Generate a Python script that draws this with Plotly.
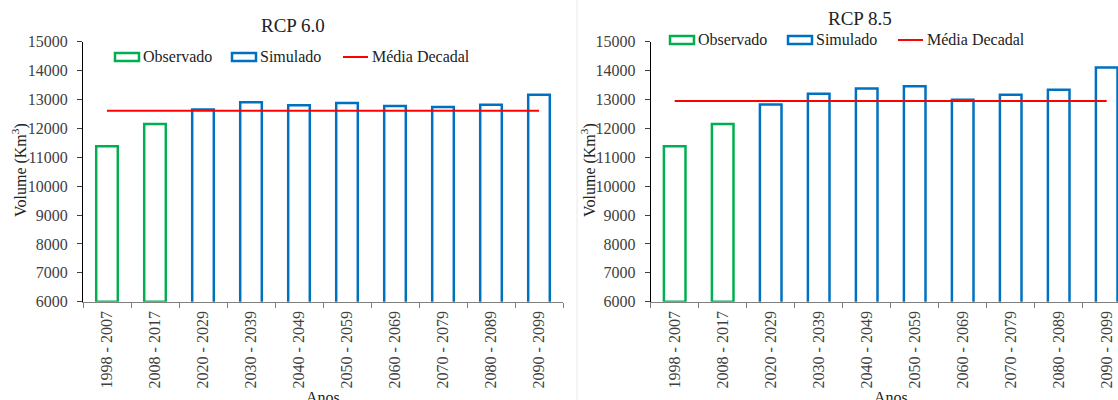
import plotly.graph_objects as go

# dados
periodos = ["1998 - 2007", "2008 - 2017", "2020 - 2029", "2030 - 2039", "2040 - 2049",
            "2050 - 2059", "2060 - 2069", "2070 - 2079", "2080 - 2089", "2090 - 2099"]
periodos_obs = periodos[:2]
periodos_sim = periodos[2:]

observado = [11380, 12150]
simulado_60 = [12650, 12900, 12800, 12880, 12770, 12740, 12820, 13160]
simulado_85 = [12830, 13200, 13380, 13460, 12990, 13160, 13340, 14110]
media_60 = 12610
media_85 = 12950

W, H = 1118, 400
FONT = "Liberation Serif, Times New Roman, serif"
VERDE = "#00b050"
AZUL = "#0070c0"
VERMELHO = "#ff0000"


def px_x(x):
    return x / W


def px_y(y):
    return 1 - y / H


fig = go.Figure()

paineis = [
    ("x", "y", simulado_60, media_60),
    ("x2", "y2", simulado_85, media_85),
]
for xa, ya, sim, media in paineis:
    fig.add_trace(go.Bar(x=periodos_obs, y=[v - 6000 for v in observado], base=6000,
                         width=0.45, marker=dict(color="white", line=dict(color=VERDE, width=2.5)),
                         xaxis=xa, yaxis=ya, showlegend=False))
    fig.add_trace(go.Bar(x=periodos_sim, y=sim, width=0.45,
                         marker=dict(color="white", line=dict(color=AZUL, width=2.5)),
                         xaxis=xa, yaxis=ya, showlegend=False))
    fig.add_trace(go.Scatter(x=periodos, y=[media] * len(periodos), mode="lines",
                             line=dict(color=VERMELHO, width=2),
                             xaxis=xa, yaxis=ya, showlegend=False))

eixo_x = dict(type="category", categoryorder="array", categoryarray=periodos,
              showline=True, linecolor="#7f7f7f", linewidth=1,
              ticks="outside", tickson="boundaries", ticklen=5, tickcolor="#7f7f7f",
              tickangle=-90, tickfont=dict(family=FONT, size=16, color="#404040"),
              ticklabelstandoff=2,
              showgrid=False, zeroline=False, automargin=False)
eixo_y = dict(range=[6000, 15000], dtick=1000, tickformat="d",
              showline=True, linecolor="black", linewidth=1,
              ticks="outside", ticklen=5, tickcolor="#404040",
              tickfont=dict(family=FONT, size=16, color="#404040"),
              ticklabelstandoff=6,
              showgrid=False, zeroline=False, automargin=False)

y_dom = [px_y(301.7), px_y(41.7)]
fig.update_layout(
    width=W, height=H,
    margin=dict(l=0, r=0, t=0, b=0),
    paper_bgcolor="white", plot_bgcolor="white",
    barmode="overlay",
    font=dict(family=FONT, color="#222222"),
    xaxis=dict(eixo_x, domain=[px_x(83), px_x(563)], range=[-0.5, 9.5], anchor="y"),
    xaxis2=dict(eixo_x, domain=[px_x(650.7), 1.0], range=[-0.5, -0.5 + (W - 650.7) / 48], anchor="y2"),
    yaxis=dict(eixo_y, domain=y_dom, anchor="x"),
    yaxis2=dict(eixo_y, domain=y_dom, anchor="x2"),
)

# divisória entre os dois gráficos
fig.add_shape(type="line", xref="paper", yref="paper", x0=px_x(577), x1=px_x(577), y0=0, y1=1,
              line=dict(color="#e8e8e8", width=1))

# títulos e rótulos dos eixos
textos = [
    ("RCP 6.0", 293, 25, 19, 0),
    ("RCP 8.5", 860, 18, 19, 0),
    ("Volume (Km<sup>3</sup>)", 19, 170, 16, -90),
    ("Volume (Km<sup>3</sup>)", 588, 170, 16, -90),
    ("Anos", 323, 397, 16, 0),
    ("Anos", 891, 397, 16, 0),
]
for txt, x, y, size, ang in textos:
    fig.add_annotation(text=txt, x=px_x(x), y=px_y(y), xref="paper", yref="paper",
                       showarrow=False, textangle=ang, xanchor="center", yanchor="middle",
                       font=dict(family=FONT, size=size, color="#222222"))

# legendas desenhadas à mão (caixas largas como no original)
legendas = [
    # (x0 da caixa do observado, x0 simulado, x0 média, y central)
    (115, 232, 343, 57),
    (670, 788, 898, 40),
]
for xo, xs, xm, yc in legendas:
    for x0, cor in ((xo, VERDE), (xs, AZUL)):
        fig.add_shape(type="rect", xref="paper", yref="paper",
                      x0=px_x(x0), x1=px_x(x0 + 24), y0=px_y(yc + 4), y1=px_y(yc - 4),
                      line=dict(color=cor, width=2.5), fillcolor="white")
    fig.add_shape(type="line", xref="paper", yref="paper",
                  x0=px_x(xm), x1=px_x(xm + 25), y0=px_y(yc), y1=px_y(yc),
                  line=dict(color=VERMELHO, width=2))
    for x0, nome in ((xo + 26, "Observado"), (xs + 26, "Simulado"), (xm + 27, "Média Decadal")):
        fig.add_annotation(text=nome, x=px_x(x0), y=px_y(yc), xref="paper", yref="paper",
                           showarrow=False, xanchor="left", yanchor="middle",
                           font=dict(family=FONT, size=16, color="#222222"))

# tira a margem padrão da página para a figura ocupar a janela inteira
fig.write_html("out.html", config={"displayModeBar": False},
               post_script="document.body.style.margin='0px';")
